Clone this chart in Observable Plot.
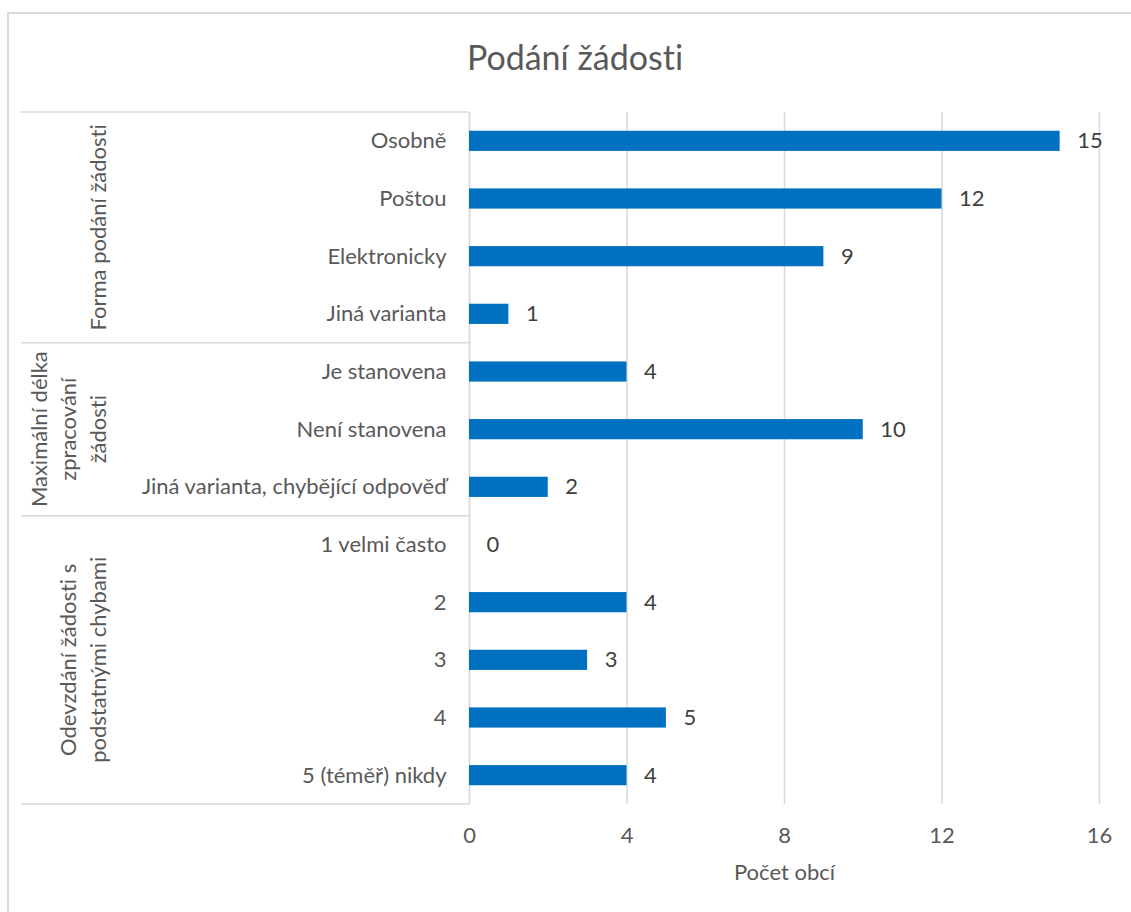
<!DOCTYPE html>
<html><head><meta charset="utf-8">
<script src="https://cdn.jsdelivr.net/npm/d3@7"></script>
<script src="https://cdn.jsdelivr.net/npm/@observablehq/plot@0.6"></script>
<style>
body{margin:0;background:#fff;}
#wrap{position:relative;width:1131px;height:912px;overflow:hidden;font-family:Lato,sans-serif;font-variant-ligatures:none;}
#frame{position:absolute;left:7px;top:12px;width:1200px;height:1000px;border:2px solid #d9d9d9;box-sizing:border-box;}
#title{position:absolute;left:7px;width:1136px;top:37px;text-align:center;font-size:34px;line-height:40px;color:#595959;font-variant-ligatures:none;}
#chart{position:absolute;left:0;top:0;}
#chart svg{display:block;}
#chart svg text{font-variant-ligatures:none;}
</style></head>
<body><div id="wrap"><div id="frame"></div><div id="chart"></div><div id="title">Podání žádosti</div></div>
<script>
const categories = ["Osobně","Poštou","Elektronicky","Jiná varianta","Je stanovena","Není stanovena","Jiná varianta, chybějící odpověď","1 velmi často","2","3","4","5 (téměř) nikdy"];
const values = [15,12,9,1,4,10,2,0,4,3,5,4];
const groupIndex = [0,0,0,0,1,1,1,2,2,2,2,2];
const groupLabels = [["Forma podání žádosti"],["Maximální délka","zpracování","žádosti"],["Odevzdání žádosti s","podstatnými chybami"]];
const xTicks = [0,4,8,12,16];
const xLabel = "Počet obcí";

const data = categories.map((c,i)=>({cat:c, value:values[i], group:groupIndex[i]}));
const textColor = "#595959";
const gridColor = "#d9d9d9";
const fs = 22;

function groupMark(index, scales, vals, dims) {
  const y = scales.y;
  const bw = y.bandwidth();
  const step = y(categories[1]) - y(categories[0]);
  const g = d3.create("svg:g").attr("font-family","Lato, sans-serif").attr("font-size", fs).attr("fill", textColor);
  const x0 = 21, x1 = dims.marginLeft;
  groupLabels.forEach((lines, gi) => {
    const cats = categories.filter((c,i)=>groupIndex[i]===gi);
    const top = y(cats[0]) + bw/2 - step/2;
    const bot = y(cats[cats.length-1]) + bw/2 + step/2;
    if (gi === 0) g.append("line").attr("x1",x0).attr("x2",x1).attr("y1",top).attr("y2",top).attr("stroke",gridColor).attr("stroke-width",1.5);
    g.append("line").attr("x1",x0).attr("x2",x1).attr("y1",bot).attr("y2",bot).attr("stroke",gridColor).attr("stroke-width",1.5);
    const cy = (top+bot)/2;
    const n = lines.length;
    lines.forEach((ln, li) => {
      const cx = 98 - (n-1-li)*29.5;
      g.append("text").attr("transform",`translate(${cx},${cy}) rotate(-90)`)
        .attr("text-anchor","middle").attr("dy","0.35em").text(ln);
    });
  });
  return g.node();
}

const plot = Plot.plot({
  width: 1131, height: 912,
  marginLeft: 469, marginRight: 32, marginTop: 112, marginBottom: 108,
  style: {fontFamily: "Lato, sans-serif", fontSize: fs + "px", color: textColor, background: "transparent"},
  x: {domain: [0,16]},
  y: {domain: categories, paddingInner: 0.65, paddingOuter: 0.325, align: 0.5, round: false},
  marks: [
    Plot.gridX(xTicks, {stroke: gridColor, strokeOpacity: 1, strokeWidth: 1.5}),
    Plot.ruleX([0], {stroke: gridColor, strokeWidth: 1.5}),
    Plot.barX(data, {x: "value", y: "cat", fill: "#0070C0"}),
    Plot.text(data, {x: "value", y: "cat", text: "value", textAnchor: "start", dx: 17, fill: "#404040", fontSize: fs}),
    Plot.axisY({tickSize: 0, tickPadding: 23, label: null, fontSize: fs}),
    Plot.axisX({ticks: xTicks, tickSize: 0, tickPadding: 23, label: null, fontSize: fs}),
    Plot.text([xLabel], {frameAnchor: "bottom", dy: 75, text: d=>d, fill: textColor, fontSize: fs}),
    groupMark
  ]
});
document.getElementById("chart").appendChild(plot);
</script>
</body></html>
